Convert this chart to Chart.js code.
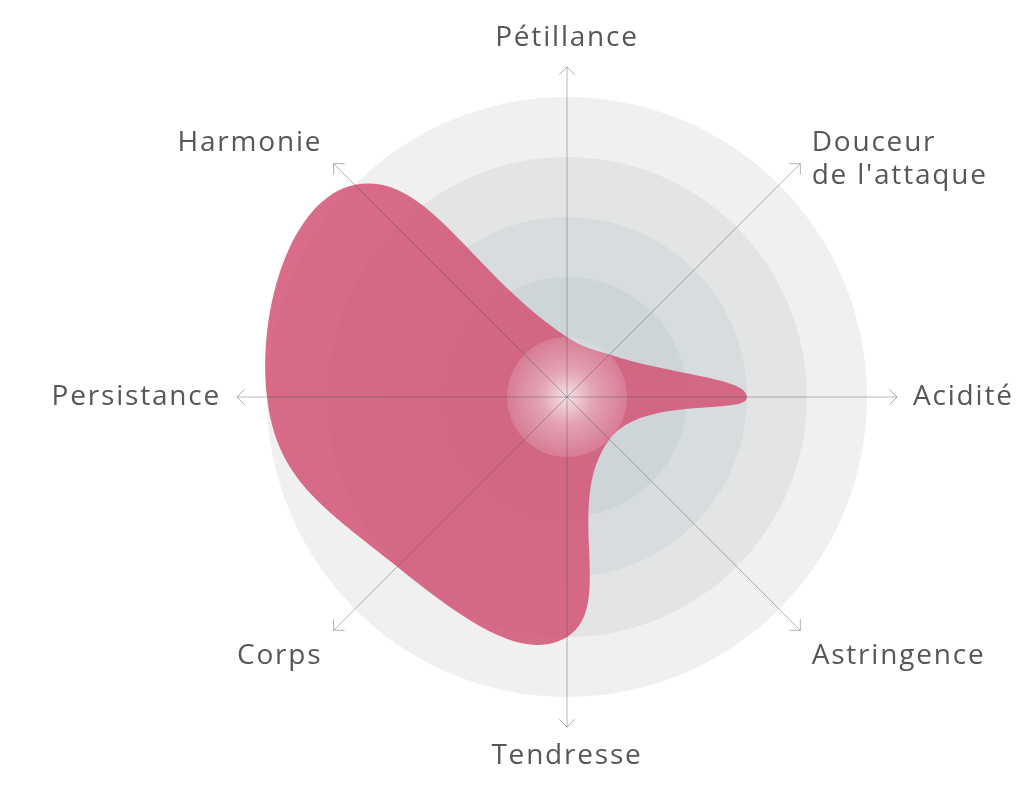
<!DOCTYPE html>
<html lang="fr">
<head>
<meta charset="utf-8">
<title>Profil de dégustation</title>
<script src="https://cdn.jsdelivr.net/npm/chart.js@4.4.1/dist/chart.umd.min.js"></script>
<style>
  html, body { margin: 0; padding: 0; background: #fff; }
  #wrap { width: 1024px; height: 789px; position: relative; }
</style>
</head>
<body>
<div id="wrap"><canvas id="tasteChart"></canvas></div>
<script>
// axes du profil, sens horaire depuis le haut
const criteres = ['Pétillance', ['Douceur', "de l'attaque"], 'Acidité', 'Astringence', 'Tendresse', 'Corps', 'Persistance', 'Harmonie'];
const notes = [1, 1, 3, 1, 4, 4, 5, 5];
const paliers = [1, 2, 3, 4, 5];

// couleurs des anneaux, du centre vers l'extérieur
const ringColors = ['#cbd3d6', '#cdd5d8', '#d7dcde', '#e3e5e5', '#f0f0f0'];

// anneaux gris pleins sous la forme
const ringsPlugin = {
  id: 'rings',
  beforeDatasetsDraw(chart) {
    const s = chart.scales.r, ctx = chart.ctx;
    ctx.save();
    for (let i = paliers.length - 1; i >= 0; i--) {
      ctx.beginPath();
      ctx.arc(s.xCenter, s.yCenter, s.getDistanceFromCenterForValue(paliers[i]), 0, Math.PI * 2);
      ctx.fillStyle = ringColors[i];
      ctx.fill();
    }
    ctx.restore();
  },
  // halo blanc au centre
  afterDatasetsDraw(chart) {
    const s = chart.scales.r, ctx = chart.ctx;
    const r = s.getDistanceFromCenterForValue(paliers[0]);
    const g = ctx.createRadialGradient(s.xCenter, s.yCenter, 0, s.xCenter, s.yCenter, r);
    g.addColorStop(0, 'rgba(255,255,255,0.8)');
    g.addColorStop(0.45, 'rgba(255,255,255,0.4)');
    g.addColorStop(1, 'rgba(255,255,255,0.14)');
    ctx.save();
    ctx.beginPath();
    ctx.arc(s.xCenter, s.yCenter, r, 0, Math.PI * 2);
    ctx.fillStyle = g;
    ctx.fill();
    ctx.restore();
  },
  // flèches au bout des axes + libellés
  afterDraw(chart) {
    const s = chart.scales.r, ctx = chart.ctx;
    const cx = s.xCenter, cy = s.yCenter;
    const tipR = s.getDistanceFromCenterForValue(s.max);
    ctx.save();
    ctx.strokeStyle = 'rgba(80,80,80,0.45)';
    ctx.lineWidth = 1;
    for (let i = 0; i < criteres.length; i++) {
      const p = s.getPointPosition(i, tipR);
      const a = Math.atan2(p.y - cy, p.x - cx);
      ctx.beginPath();
      ctx.moveTo(p.x + 11 * Math.cos(a + Math.PI * 0.75), p.y + 11 * Math.sin(a + Math.PI * 0.75));
      ctx.lineTo(p.x, p.y);
      ctx.lineTo(p.x + 11 * Math.cos(a - Math.PI * 0.75), p.y + 11 * Math.sin(a - Math.PI * 0.75));
      ctx.stroke();
    }

    ctx.font = '28px "Open Sans", "Noto Sans", sans-serif';
    ctx.fillStyle = '#575757';
    ctx.letterSpacing = '1.8px';
    ctx.textBaseline = 'middle';
    const dist = 346, lh = 33;
    for (let i = 0; i < criteres.length; i++) {
      const p = s.getPointPosition(i, dist);
      const ux = (p.x - cx) / dist, uy = (p.y - cy) / dist;
      ctx.textAlign = Math.abs(ux) < 0.1 ? 'center' : (ux > 0 ? 'left' : 'right');
      const lines = Array.isArray(criteres[i]) ? criteres[i] : [criteres[i]];
      let y = p.y + uy * 13;
      if (uy > 0.1 && Math.abs(ux) > 0.1) y += 5;
      lines.forEach((t, k) => ctx.fillText(t, p.x, y + k * lh));
    }
    ctx.restore();
  }
};

new Chart(document.getElementById('tasteChart'), {
  type: 'radar',
  data: {
    labels: criteres,
    datasets: [{
      label: 'Profil',
      data: notes,
      backgroundColor: 'rgba(210, 84, 116, 0.85)',
      borderWidth: 0,
      pointRadius: 0,
      fill: true,
      tension: 0.45
    }]
  },
  options: {
    responsive: true,
    maintainAspectRatio: false,
    animation: false,
    layout: { padding: { left: 237, right: 127, top: 67, bottom: 62 } },
    plugins: { legend: { display: false }, tooltip: { enabled: false } },
    scales: {
      r: {
        min: 0,
        max: 5.5,
        ticks: { display: false, stepSize: 1 },
        grid: { display: false, z: 1 },
        angleLines: { color: 'rgba(80,80,80,0.42)', lineWidth: 1 },
        pointLabels: { display: false }
      }
    }
  },
  plugins: [ringsPlugin]
});
</script>
</body>
</html>
